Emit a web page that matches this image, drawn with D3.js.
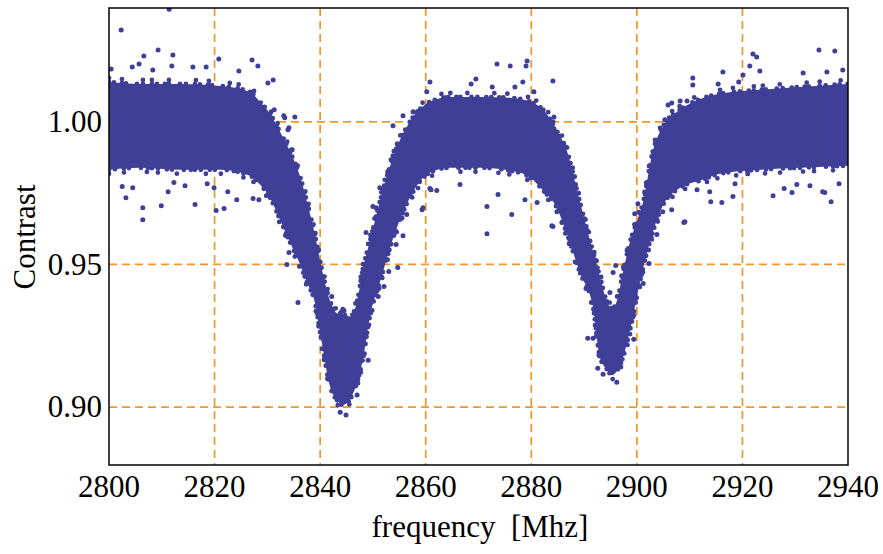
<!DOCTYPE html>
<html>
<head>
<meta charset="utf-8">
<script src="https://cdn.jsdelivr.net/npm/d3@7"></script>
<style>
  html, body { margin: 0; padding: 0; background: #fff; }
  text { font-family: "Liberation Serif", "Times New Roman", serif; fill: #000; }
</style>
</head>
<body>
<div id="chart"></div>
<script>
// dense core of the measured points: frequency grid with top / bottom of the band
var bandFreq = [2800.0, 2805.9, 2813.4, 2821.0, 2826.7, 2828.6, 2830.5, 2832.4, 2834.3, 2836.2,
  2837.5, 2839.0, 2840.3, 2841.9, 2843.2, 2844.3, 2845.7, 2847.0, 2848.1, 2849.4,
  2851.3, 2854.2, 2857.0, 2860.8, 2864.6, 2870.3, 2876.0, 2879.8, 2882.6, 2884.5,
  2886.8, 2889.2, 2891.7, 2893.0, 2894.3, 2895.3, 2896.2, 2897.4, 2898.7, 2900.0,
  2901.2, 2903.0, 2904.9, 2908.2, 2912.0, 2915.7, 2923.3, 2930.9, 2940.0];
var bandTop = [1.0140, 1.0133, 1.0133, 1.0126, 1.0105, 1.0070, 1.0028, 0.9965, 0.9895, 0.9808,
  0.9720, 0.9605, 0.9486, 0.9371, 0.9329, 0.9325, 0.9318, 0.9371, 0.9486, 0.9580,
  0.9720, 0.9895, 1.0000, 1.0070, 1.0087, 1.0087, 1.0084, 1.0070, 1.0035, 0.9979,
  0.9895, 0.9720, 0.9545, 0.9458, 0.9371, 0.9346, 0.9371, 0.9475, 0.9580, 0.9650,
  0.9720, 0.9895, 0.9983, 1.0042, 1.0080, 1.0098, 1.0112, 1.0122, 1.0133];
var bandBottom = [0.9832, 0.9839, 0.9832, 0.9832, 0.9811, 0.9780, 0.9734, 0.9657, 0.9577, 0.9500,
  0.9437, 0.9367, 0.9227, 0.9070, 0.9024, 0.9007, 0.9028, 0.9087, 0.9168, 0.9315,
  0.9437, 0.9612, 0.9734, 0.9822, 0.9839, 0.9839, 0.9829, 0.9804, 0.9752, 0.9710,
  0.9605, 0.9472, 0.9350, 0.9175, 0.9133, 0.9112, 0.9126, 0.9175, 0.9269, 0.9385,
  0.9489, 0.9612, 0.9706, 0.9769, 0.9794, 0.9818, 0.9832, 0.9839, 0.9846];

// scattered points outside the dense core
var outFreq = [2802.3, 2811.4, 2809.3, 2806.6, 2812.1, 2805.7, 2804.4, 2811.9, 2815.9, 2818.4,
  2820.8, 2827.1, 2828.2, 2824.6, 2808.3, 2800.4, 2830.1, 2831.1, 2831.3, 2833.3,
  2833.9, 2806.4, 2806.4, 2809.9, 2816.3, 2820.3, 2821.8, 2824.2, 2803.2, 2811.2,
  2812.3, 2814.4, 2804.5, 2802.5, 2827.3, 2828.4, 2818.6, 2819.9, 2822.5,
  2934.5, 2937.5, 2922.0, 2922.7, 2921.4, 2916.3, 2910.6, 2910.6, 2915.4, 2919.3,
  2920.1, 2923.3, 2931.5, 2936.0, 2939.0, 2908.2, 2906.6, 2909.5, 2905.3, 2903.2,
  2909.1, 2914.0, 2916.1, 2918.2, 2918.6, 2921.0, 2925.8, 2927.9, 2929.4, 2930.3,
  2932.8, 2935.2, 2936.8, 2938.3, 2904.9, 2906.6, 2935.6, 2913.8,
  2873.5, 2876.0, 2879.0, 2879.2, 2869.5, 2868.6, 2860.8, 2872.6, 2876.9, 2878.4,
  2884.1, 2880.5, 2857.6, 2855.7, 2853.8, 2884.1, 2883.2, 2884.3,
  2871.6, 2871.6, 2876.3, 2873.7, 2866.5, 2861.0, 2859.3, 2878.8, 2881.1, 2883.9,
  2885.8, 2887.3, 2888.7,
  2833.1, 2835.2, 2834.1, 2834.7, 2863.8, 2860.2, 2854.6, 2853.8, 2852.8, 2851.3,
  2850.6, 2848.7, 2834.1, 2860.8, 2862.1, 2859.5, 2856.4, 2855.7, 2854.4, 2833.7,
  2835.8, 2842.2, 2843.9, 2844.9, 2843.8, 2847.0, 2849.1, 2850.0, 2854.7, 2853.0,
  2852.1, 2851.0, 2843.2, 2844.3,
  2896.2, 2892.6, 2893.6, 2890.7, 2891.7, 2894.9, 2895.5, 2896.0, 2899.4, 2901.2,
  2902.3, 2903.8, 2900.2, 2899.6, 2908.9, 2884.1, 2884.3, 2883.0, 2905.9, 2911.4,
  2906.3];
var outContrast = [1.0322, 1.0395, 1.0252, 1.0231, 1.0234, 1.0203, 1.0192, 1.0196, 1.0192, 1.0192,
  1.0220, 1.0217, 1.0196, 1.0178, 1.0182, 1.0185, 1.0136, 1.0147, 1.0042, 1.0014,
  0.9972, 0.9657, 0.9699, 0.9706, 0.9710, 0.9689, 0.9696, 0.9727, 0.9734, 0.9755,
  0.9787, 0.9776, 0.9769, 0.9773, 0.9731, 0.9727, 0.9783, 0.9769, 0.9755,
  1.0252, 1.0248, 1.0238, 1.0227, 1.0196, 1.0175, 1.0154, 1.0129, 1.0133, 1.0140,
  1.0164, 1.0178, 1.0171, 1.0175, 1.0182, 1.0073, 1.0066, 1.0073, 1.0007, 0.9895,
  0.9650, 0.9720, 0.9717, 0.9738, 0.9783, 0.9818, 0.9741, 0.9766, 0.9752, 0.9780,
  0.9776, 0.9755, 0.9720, 0.9783, 0.9685, 0.9692, 0.9752, 0.9755,
  1.0203, 1.0196, 1.0196, 1.0213, 1.0150, 1.0133, 1.0140, 1.0122, 1.0122, 1.0140,
  1.0143, 1.0105, 1.0035, 1.0021, 0.9986, 1.0000, 1.0007, 0.9976,
  0.9703, 0.9608, 0.9675, 0.9745, 0.9780, 0.9762, 0.9692, 0.9727, 0.9717, 0.9636,
  0.9647, 0.9587, 0.9528,
  1.0021, 1.0017, 0.9979, 0.9902, 1.0084, 1.0105, 0.9923, 0.9881, 0.9825, 0.9769,
  0.9699, 0.9612, 0.9542, 0.9766, 0.9759, 0.9699, 0.9675, 0.9601, 0.9570, 0.9500,
  0.9367, 0.9388, 0.9332, 0.8972, 0.8982, 0.9042, 0.9164, 0.9703, 0.9489, 0.9475,
  0.9423, 0.9388, 0.9308, 0.9343,
  0.9087, 0.9136, 0.9115, 0.9241, 0.9241, 0.9402, 0.9472, 0.9496, 0.9238, 0.9433,
  0.9503, 0.9605, 0.9713, 0.9678, 0.9647, 0.9633, 1.0017, 1.0003, 1.0059, 0.9762,
  1.0000];

var xTicks = [2800, 2820, 2840, 2860, 2880, 2900, 2920, 2940];
var yTicks = [0.90, 0.95, 1.00];

var w = 883, h = 554;
var margin = {top: 8, right: 35, bottom: 89, left: 109};
var dotColor = "#3f3f97";
var gridColor = "#f2962c";

var svg = d3.select("#chart").append("svg")
    .attr("width", w)
    .attr("height", h);

var pw = w - margin.left - margin.right;
var ph = h - margin.top - margin.bottom;

var x = d3.scaleLinear().domain([2800, 2940]).range([0, pw]);
var y = d3.scaleLinear().domain([0.8797, 1.0399]).range([ph, 0]);

var plot = svg.append("g")
    .attr("transform", "translate(" + margin.left + "," + margin.top + ")");

// dashed grid
plot.append("g").selectAll("line")
    .data(xTicks.slice(1, -1))
    .enter().append("line")
    .attr("x1", function(d) { return x(d); })
    .attr("x2", function(d) { return x(d); })
    .attr("y1", 0).attr("y2", ph)
    .attr("stroke", gridColor).attr("stroke-width", 1.7)
    .attr("stroke-dasharray", "8,5");

plot.append("g").selectAll("line")
    .data(yTicks)
    .enter().append("line")
    .attr("x1", 0).attr("x2", pw)
    .attr("y1", function(d) { return y(d); })
    .attr("y2", function(d) { return y(d); })
    .attr("stroke", gridColor).attr("stroke-width", 1.7)
    .attr("stroke-dasharray", "8,5");

svg.append("clipPath").attr("id", "clip")
    .append("rect").attr("width", pw).attr("height", ph);

var dataG = plot.append("g").attr("clip-path", "url(#clip)");

var band = bandFreq.map(function(f, i) {
    return {f: f, top: bandTop[i], bottom: bandBottom[i]};
});

var area = d3.area()
    .x(function(d) { return x(d.f); })
    .y0(function(d) { return y(d.bottom); })
    .y1(function(d) { return y(d.top); })
    .curve(d3.curveMonotoneX);

dataG.append("path")
    .datum(band)
    .attr("d", area)
    .attr("fill", dotColor);

// beaded rims so the band edge breaks up like single points
var rims = [
    {k: "top", dy: 0, dash: "0,5,0,8,0,4,0,11,0,6,0,9"},
    {k: "top", dy: -4, dash: "0,13,0,21,0,9,0,17,0,27"},
    {k: "bottom", dy: 0, dash: "0,6,0,9,0,5,0,12,0,7,0,4"},
    {k: "bottom", dy: 4, dash: "0,15,0,23,0,11,0,19,0,29"}
];
rims.forEach(function(r) {
    var line = d3.line()
        .x(function(d) { return x(d.f); })
        .y(function(d) { return y(d[r.k]); })
        .curve(d3.curveMonotoneX);
    dataG.append("path")
        .datum(band)
        .attr("d", line)
        .attr("transform", "translate(0," + r.dy + ")")
        .attr("fill", "none")
        .attr("stroke", dotColor)
        .attr("stroke-width", 4.8)
        .attr("stroke-linecap", "round")
        .attr("stroke-dasharray", r.dash);
});

var pts = outFreq.map(function(f, i) { return {f: f, c: outContrast[i]}; });

dataG.append("g").selectAll("circle")
    .data(pts)
    .enter().append("circle")
    .attr("cx", function(d) { return x(d.f); })
    .attr("cy", function(d) { return y(d.c); })
    .attr("r", 2.5)
    .attr("fill", dotColor);

// frame
plot.append("rect")
    .attr("width", pw).attr("height", ph)
    .attr("fill", "none")
    .attr("stroke", "#000")
    .attr("stroke-width", 1.5);

// tick labels
plot.append("g").selectAll("text")
    .data(xTicks)
    .enter().append("text")
    .attr("x", function(d) { return x(d); })
    .attr("y", ph + 32)
    .attr("text-anchor", "middle")
    .attr("font-size", 31)
    .text(function(d) { return d; });

plot.append("g").selectAll("text")
    .data(yTicks)
    .enter().append("text")
    .attr("x", -7)
    .attr("y", function(d) { return y(d); })
    .attr("dy", "0.33em")
    .attr("text-anchor", "end")
    .attr("font-size", 31)
    .text(function(d) { return d3.format(".2f")(d); });

// axis titles
svg.append("text")
    .attr("x", 480)
    .attr("y", 537)
    .attr("text-anchor", "middle")
    .attr("font-size", 31)
    .style("white-space", "pre")
    .text("frequency  [Mhz]");

svg.append("text")
    .attr("transform", "translate(35,237) rotate(-90)")
    .attr("text-anchor", "middle")
    .attr("font-size", 31)
    .text("Contrast");
</script>
</body>
</html>
